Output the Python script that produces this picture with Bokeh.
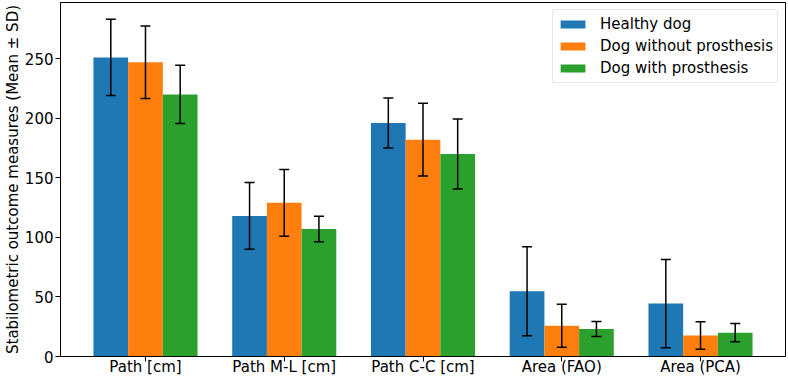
from bokeh.plotting import figure
from bokeh.models import ColumnDataSource, Range1d, FixedTicker, Whisker, TeeHead, Legend, LegendItem
from bokeh.embed import file_html
from bokeh.resources import INLINE

# Stabilometric measures, mean and standard deviation per group
measures = ["Path [cm]", "Path M-L [cm]", "Path C-C [cm]", "Area (FAO)", "Area (PCA)"]
groups = ["Healthy dog", "Dog without prosthesis", "Dog with prosthesis"]

healthy_mean = [251, 118, 196, 54.8, 44.4]
healthy_sd = [32, 28, 21, 37.3, 37.1]
without_mean = [247, 129, 182, 25.8, 17.6]
without_sd = [30.5, 28, 30.5, 18, 11.5]
with_mean = [220, 107, 170, 23, 20]
with_sd = [24.5, 10.7, 29.3, 6.3, 7.6]

colors = ["#1f77b4", "#ff7f0e", "#2ca02c"]
bar_w = 0.25
FONT = "DejaVu Sans"

series = [(healthy_mean, healthy_sd), (without_mean, without_sd), (with_mean, with_sd)]

# matplotlib-like autoscaling: 5% margins, bars stick to zero
x_lo = -1.5 * bar_w
x_hi = len(measures) - 1 + 1.5 * bar_w
x_pad = 0.05 * (x_hi - x_lo)
y_top = max(max(m + s for m, s in zip(mm, ss)) for mm, ss in series) * 1.05

p = figure(width=788, height=378, output_backend="svg", toolbar_location=None,
           x_range=Range1d(x_lo - x_pad, x_hi + x_pad), y_range=Range1d(0, y_top),
           min_border_left=56, min_border_right=3, min_border_top=2, min_border_bottom=22)

p.grid.visible = False
p.outline_line_color = "black"
p.outline_line_width = 1
p.background_fill_color = "white"
p.border_fill_color = "white"

legend_items = []
for k, ((means, sds), name, col) in enumerate(zip(series, groups, colors)):
    xs = [i + (k - 1) * bar_w for i in range(len(measures))]
    src = ColumnDataSource(dict(
        x=xs, top=means,
        upper=[m + s for m, s in zip(means, sds)],
        lower=[m - s for m, s in zip(means, sds)],
    ))
    r = p.vbar(x="x", top="top", width=bar_w, bottom=0, source=src,
               fill_color=col, line_color=None)
    legend_items.append(LegendItem(label=name, renderers=[r]))
    err = Whisker(source=src, base="x", upper="upper", lower="lower", dimension="height",
                  line_color="black", line_width=1.5, level="overlay",
                  upper_head=TeeHead(size=10, line_color="black", line_width=1.5),
                  lower_head=TeeHead(size=10, line_color="black", line_width=1.5))
    p.add_layout(err)

legend = Legend(items=legend_items, location="top_right", margin=7, padding=4,
                spacing=2, label_height=20, glyph_width=31, glyph_height=10,
                label_standoff=12, label_text_font=FONT, label_text_font_size="15px",
                label_text_color="black", border_line_color="#cccccc",
                border_line_width=1, background_fill_alpha=0.8, border_radius=3)
p.add_layout(legend)

# x axis: category ticks
p.xaxis.ticker = FixedTicker(ticks=list(range(len(measures))))
p.xaxis.major_label_overrides = {i: m for i, m in enumerate(measures)}
p.yaxis.ticker = FixedTicker(ticks=[0, 50, 100, 150, 200, 250])
p.yaxis.axis_label = "Stabilometric outcome measures (Mean \u00b1 SD)"

for ax in (p.xaxis, p.yaxis):
    ax.axis_line_color = "black"
    ax.major_tick_line_color = "black"
    ax.major_tick_out = 5
    ax.major_tick_in = 0
    ax.minor_tick_line_color = None
    ax.major_label_text_font = FONT
    ax.major_label_text_font_size = "15px"
    ax.major_label_text_color = "black"
    ax.axis_label_text_font = FONT
    ax.axis_label_text_font_size = "15px"
    ax.axis_label_text_font_style = "normal"
    ax.axis_label_text_color = "black"
    ax.axis_label_standoff = 0

p.yaxis.major_label_standoff = 2
p.xaxis.major_label_standoff = -4

open("out.html", "w").write(file_html(p, INLINE))
